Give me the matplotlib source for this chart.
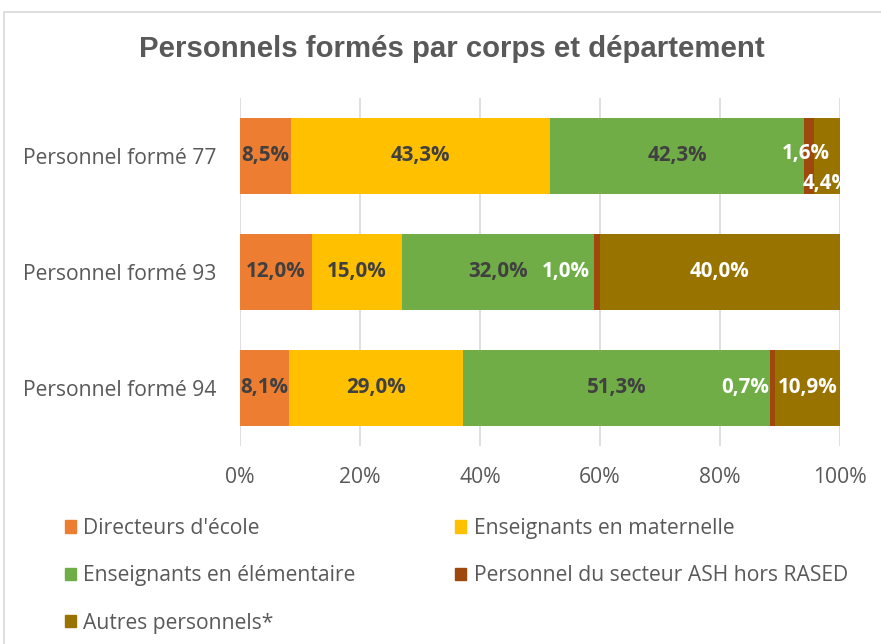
import matplotlib.pyplot as plt
import numpy as np
from matplotlib.patches import Patch, Rectangle

plt.rcParams['font.family'] = ['Open Sans', 'DejaVu Sans']

departements = ["Personnel formé 77", "Personnel formé 93", "Personnel formé 94"]
series = ["Directeurs d'école", "Enseignants en maternelle", "Enseignants en élémentaire",
          "Personnel du secteur ASH hors RASED", "Autres personnels*"]
directeurs = [8.5, 12.0, 8.1]
maternelle = [43.3, 15.0, 29.0]
elementaire = [42.3, 32.0, 51.3]
ash = [1.6, 1.0, 0.7]
autres = [4.4, 40.0, 10.9]

colors = ["#ED7D31", "#FFC000", "#70AD47", "#9E480E", "#997300"]
label_colors = ["#404040", "#404040", "#404040", "white", "white"]
# manual label shifts (pixels) for the thin segments, like in the original chart
shifts = {(0, 3): (-3, 3), (0, 4): (0, -27), (1, 3): (-31, 0), (2, 3): (-27, 0)}

values = np.array([directeurs, maternelle, elementaire, ash, autres])
pct = values / values.sum(axis=0) * 100

fig = plt.figure(figsize=(8.81, 6.44), dpi=100)
ax = fig.add_axes([240 / 881, 1 - 446 / 644, 600 / 881, 348 / 644])

y = np.arange(len(departements))
left = np.zeros(len(departements))
for i, name in enumerate(series):
    ax.barh(y, pct[i], left=left, height=0.66, color=colors[i], label=name, zorder=2)
    for j in range(len(departements)):
        dx, dy = shifts.get((j, i), (0, 0))
        ax.annotate(f"{values[i, j]:.1f}%".replace(".", ","),
                    (left[j] + pct[i, j] / 2, y[j]), xytext=(dx * 0.72, dy * 0.72),
                    textcoords="offset points", ha="center", va="center",
                    fontsize=14.8, fontweight="bold", color=label_colors[i],
                    annotation_clip=False, clip_on=True, zorder=3)
    left += pct[i]

ax.set_xlim(0, 100)
ax.set_ylim(2.5, -0.5)
ax.set_yticks(y)
ax.set_yticklabels(departements)
ax.set_xticks(np.arange(0, 101, 20))
ax.set_xticklabels([f"{v}%" for v in range(0, 101, 20)])
ax.tick_params(length=0, labelsize=15.2, labelcolor="#595959")
ax.tick_params(axis="y", pad=17)
ax.tick_params(axis="x", pad=15)
ax.grid(axis="x", color="#D9D9D9", linewidth=1.2, zorder=0)
for s in ax.spines.values():
    s.set_visible(False)

fig.text(452 / 881, 1 - 49 / 644, "Personnels formés par corps et département",
         ha="center", va="center", fontsize=21.2, fontweight="bold",
         color="#595959", family=["Liberation Sans", "DejaVu Sans"])

# chart frame (cropped on the right and bottom)
fig.patches.append(Rectangle((4 / 881, -0.1), 1.2, 1.1 - 12 / 644, transform=fig.transFigure,
                             fill=False, edgecolor="#D9D9D9", linewidth=1.2))

order = [0, 2, 4, 1, 3]
handles = [Patch(color=colors[k], label=series[k]) for k in order]
fig.legend(handles=handles, loc="upper left", bbox_to_anchor=(65 / 881, 1 - 518 / 644),
           ncol=2, frameon=False, fontsize=15.2, labelcolor="#595959",
           handlelength=0.52, handleheight=0.52, handletextpad=0.35,
           columnspacing=4.72, labelspacing=1.25, borderpad=0, borderaxespad=0)

fig.savefig("out.png", dpi=100)
